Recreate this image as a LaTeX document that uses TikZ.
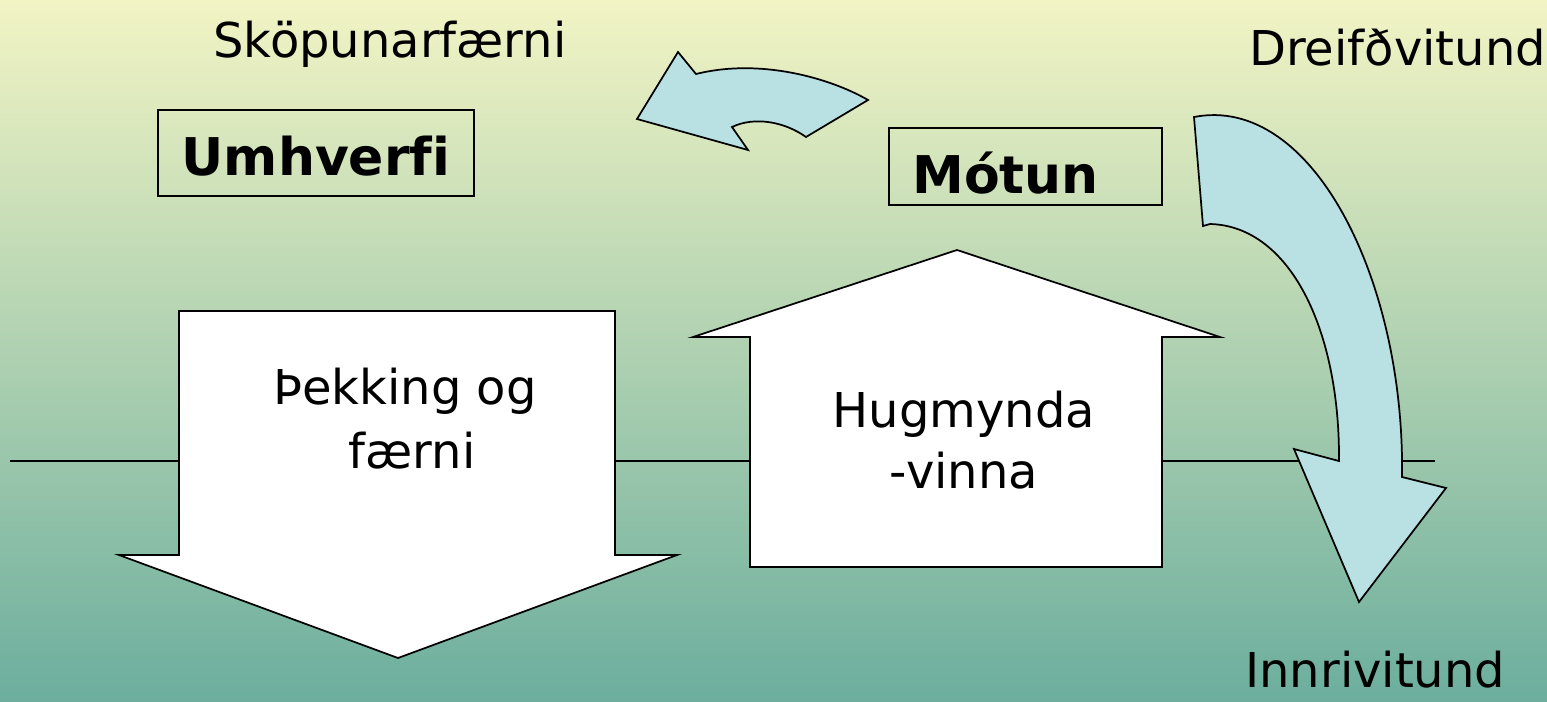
\documentclass[tikz,border=0pt]{standalone}
\usepackage{fontspec}
\setmainfont{DejaVu Sans}[Ligatures=NoCommon]
\definecolor{bgtop}{HTML}{F2F4C4}
\definecolor{bgmid}{HTML}{BBD5B2}
\definecolor{bgbot}{HTML}{6CAE9E}
\definecolor{arrowblue}{HTML}{B9E0E3}
\begin{document}
\begin{tikzpicture}[x=0.75pt,y=-0.75pt,
  lbl/.style={inner sep=0pt,font=\fontsize{36}{44}\selectfont},
  blbl/.style={inner sep=0pt,font=\fontsize{39}{46}\selectfont\bfseries},
  outline/.style={draw=black,line width=1.3pt,line join=miter},
  bigarrow/.style={outline,fill=white},
  curvearrow/.style={outline,fill=arrowblue}]
\useasboundingbox (0,0) rectangle (1547,701);
\shade[top color=bgtop,middle color=bgmid,bottom color=bgbot] (0,0) rectangle (1547,701);
% horizontal line
\coordinate (hl) at (10,461);
\coordinate (hr) at (1435,461);
\draw[line width=1.1pt] (hl) -- (hr);
% down arrow
\draw[bigarrow] (179,311) -- (615,311) -- (615,555) -- (677,555) -- (398,658) -- (119,555) -- (179,555) -- cycle;
% up arrow
\draw[bigarrow] (750,567) -- (1162,567) -- (1162,337) -- (1220,337) -- (957,250) -- (693,337) -- (750,337) -- cycle;
% top curved arrow
\draw[curvearrow] (637,119) -- (678,52) -- (696,74)
  .. controls (760,58) and (830,78) .. (868,100)
  -- (806,137)
  .. controls (785,122) and (755,116) .. (732,127)
  -- (748,150) -- cycle;
% right curved arrow
\draw[curvearrow] (1194,117)
  .. controls (1312,94) and (1405,280) .. (1402,477)
  -- (1446,488) -- (1359,602) -- (1294,449) -- (1339,461)
  .. controls (1340,330) and (1290,226) .. (1210,224)
  -- (1203,226) -- cycle;
% boxes
\draw[line width=1.1pt] (158,110) rectangle (474,196);
\draw[line width=1.1pt] (889,128) rectangle (1162,205);
% texts
\node[blbl,anchor=base] (umh) at (316,175) {Umhverfi};
\node[blbl,anchor=base west] (mot) at (912,193) {Mótun};
\node[lbl,anchor=base] (skop) at (390,57) {Sköpunarfærni};
\node[lbl,anchor=base west] (dreif) at (1249,65) {Dreifðvitund};
\node[lbl,anchor=base west] (innri) at (1245,687) {Innrivitund};
\node[lbl,anchor=base] (thek1) at (405,404) {Þekking og};
\node[lbl,anchor=base] (thek2) at (412,468) {færni};
\node[lbl,anchor=base] (hug1) at (964,427) {Hugmynda};
\node[lbl,anchor=base] (hug2) at (964,488) {-vinna};
\end{tikzpicture}
\end{document}
